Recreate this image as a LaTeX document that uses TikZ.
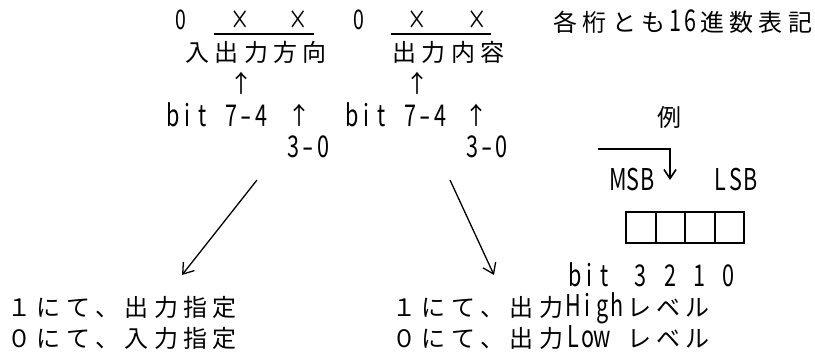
\documentclass[tikz,border=0pt]{standalone}
\usepackage{fontspec}
\usepackage{graphicx}
\setmainfont{Noto Sans CJK JP}
\newfontfamily\cjk{Noto Sans CJK JP}
\newfontfamily\lat[FakeStretch=0.72]{Noto Sans CJK JP}
\usetikzlibrary{arrows.meta}
\newlength\zw \setlength\zw{29.3pt}
\newlength\hw \setlength\hw{14.65pt}
\newcommand\zfont{\cjk\fontsize{24}{28}\selectfont}
\newcommand\hfont{\lat\fontsize{30}{34}\selectfont}
\newcommand\tfont{\lat\fontsize{27}{31}\selectfont}
\def\zloop#1{\ifx\relax#1\else\makebox[\zw][c]{\zfont#1}\expandafter\zloop\fi}
\def\hloop#1{\ifx\relax#1\else\makebox[\hw][c]{\hfont#1}\expandafter\hloop\fi}
\def\dloop#1{\ifx\relax#1\else\makebox[\zw][c]{\hfont#1}\expandafter\dloop\fi}
\newcommand\ZW[1]{\zloop#1\relax}
\newcommand\HW[1]{\hloop#1\relax}
\newcommand\DW[1]{\dloop#1\relax}
\newcommand\TOP[1]{\makebox[\hw][c]{\tfont#1}}
\newcommand\HS{\hspace*{\hw}}
\newcommand\DASH{\makebox[\hw][c]{\hfont\scalebox{1.5}[1]{-}}}
\begin{document}
\begin{tikzpicture}[x=1pt,y=-1pt,
  txt/.style={inner sep=0pt, outer sep=0pt, anchor=base west},
  ctr/.style={inner sep=0pt, outer sep=0pt, anchor=base},
  conn/.style={line width=1.3pt, -{Straight Barb[length=10pt,width=14pt]}},
  exarrow/.style={line width=1.6pt, -{Straight Barb[length=9pt,width=12pt]}},
  rule/.style={line width=2pt},
  cell/.style={draw, line width=2pt, minimum width=29.5pt, minimum height=31pt, inner sep=0pt}]
\useasboundingbox (0,0) rectangle (815,355);
% top row
\node[ctr] (o1) at (181,29.5) {\TOP{0}};
\node[ctr] (x1) at (240,29.5) {\TOP{×}};
\node[ctr] (x2) at (298,29.5) {\TOP{×}};
\node[ctr] (o2) at (359,29.5) {\TOP{0}};
\node[ctr] (x3) at (417,29.5) {\TOP{×}};
\node[ctr] (x4) at (477,29.5) {\TOP{×}};
\node[txt] (note) at (551,32) {\ZW{各桁とも}\HW{16}\ZW{進数表記}};
% overlines
\coordinate (u1a) at (214,33.8);
\coordinate (u1b) at (314,33.8);
\coordinate (u2a) at (391,33.8);
\coordinate (u2b) at (491,33.8);
\draw[rule] (u1a) -- (u1b);
\draw[rule] (u2a) -- (u2b);
% labels
\node[txt] (dir) at (182.8,62) {\ZW{入出力方向}};
\node[txt] (cont) at (389.8,62) {\ZW{出力内容}};
\node[ctr] (up1) at (241,93) {\ZW{↑}};
\node[ctr] (up2) at (417,93) {\ZW{↑}};
\node[txt] (b1) at (166,127) {\HW{bit}\HS\HW{7}\DASH\HW{4}};
\node[ctr] (up3) at (299,125) {\ZW{↑}};
\node[txt] (b2) at (345,127) {\HW{bit}\HS\HW{7}\DASH\HW{4}};
\node[ctr] (up4) at (476.5,125) {\ZW{↑}};
\node[txt] (r1) at (286.5,158) {\HW{3}\DASH\HW{0}};
\node[txt] (r2) at (465,158) {\HW{3}\DASH\HW{0}};
% example
\node[ctr] (ex) at (669,126.5) {\ZW{例}};
\node[txt] (msb) at (610.5,191) {\HW{MSB}};
\node[txt] (lsb) at (713.5,191) {\HW{LSB}};
\node[cell] (c3) at (640.75,227.5) {};
\node[cell] (c2) at (670.25,227.5) {};
\node[cell] (c1) at (699.75,227.5) {};
\node[cell] (c0) at (729.25,227.5) {};
\node[txt] (bits) at (567.5,287) {\HW{bit}\HS\DW{3210}};
\coordinate (exs) at (598,149);
\coordinate (exc) at (670,149);
\coordinate (exe) at (670,180);
\draw[exarrow] (exs) -- (exc) -- (exe);
% diagonal arrows
\coordinate (a1s) at (257,180);
\coordinate (a1e) at (182,275);
\coordinate (a2s) at (450,180);
\coordinate (a2e) at (494,275);
\draw[conn] (a1s) -- (a1e);
\draw[conn] (a2s) -- (a2e);
% bottom texts
\node[txt] (l1) at (5,317) {\ZW{１にて、出力指定}};
\node[txt] (l2) at (5,348) {\ZW{０にて、入力指定}};
\node[txt] (rb1) at (390,317) {\ZW{１にて、出力}\HW{High}\ZW{レベル}};
\node[txt] (rb2) at (390,348) {\ZW{０にて、出力}\HW{Low}\HS\ZW{レベル}};
\end{tikzpicture}
\end{document}
